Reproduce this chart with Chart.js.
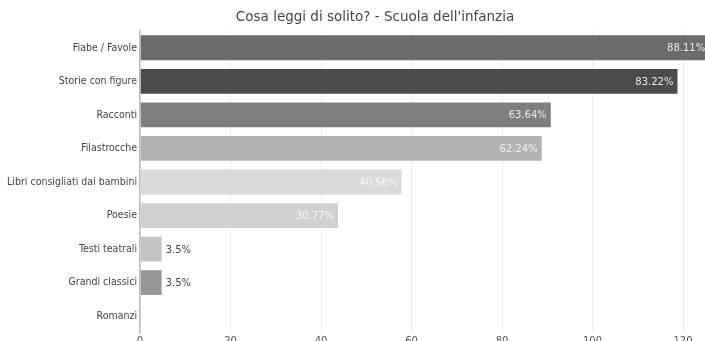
<!DOCTYPE html>
<html>
<head>
<meta charset="utf-8">
<script src="https://cdn.jsdelivr.net/npm/chart.js@4"></script>
<style>
    html, body { margin: 0; padding: 0; background: #fff; overflow: hidden; }
    #wrap { width: 705px; height: 348px; }
</style>
</head>
<body>
<div id="wrap"><canvas id="reading-chart"></canvas></div>
<script>
const titleText = "Cosa leggi di solito? - Scuola dell'infanzia";
const categories = ['Fiabe / Favole', 'Storie con figure', 'Racconti', 'Filastrocche',
    'Libri consigliati dai bambini', 'Poesie', 'Testi teatrali', 'Grandi classici', 'Romanzi'];
const answers = [126, 119, 91, 89, 58, 44, 5, 5, 0];
const totalAnswers = 143;
const barColors = ['#6b6b6b', '#4b4b4b', '#7f7f7f', '#b3b3b3', '#dadada', '#d0d0d0', '#c3c3c3', '#979797', '#aaaaaa'];
const labelColors = ['#e8e8e8', '#e8e8e8', '#e8e8e8', '#eeeeee', '#f6f6f6', '#f6f6f6', '#444', '#444', '#444'];
const xTicks = [0, 20, 40, 60, 80, 100, 120];

const percentOf = v => parseFloat((v / totalAnswers * 100).toFixed(2)) + '%';

// title sits a bit right of the canvas center, above the plot
const titlePlugin = {
    id: 'topTitle',
    afterDraw(chart) {
        const ctx = chart.ctx;
        ctx.save();
        ctx.font = '13.5px "DejaVu Sans"';
        ctx.fillStyle = '#444';
        ctx.textAlign = 'center';
        ctx.textBaseline = 'middle';
        ctx.fillText(titleText, 375, 17);
        ctx.restore();
    }
};

// percentage at the end of each bar: inside for long bars, outside for short ones
const valueLabels = {
    id: 'valueLabels',
    afterDatasetsDraw(chart) {
        const ctx = chart.ctx;
        const meta = chart.getDatasetMeta(0);
        ctx.save();
        ctx.font = '10px "DejaVu Sans"';
        ctx.textBaseline = 'middle';
        meta.data.forEach((bar, i) => {
            const v = answers[i];
            if (!v) return;
            ctx.fillStyle = labelColors[i];
            if (bar.x - bar.base > 60) {
                ctx.textAlign = 'right';
                ctx.fillText(percentOf(v), bar.x - 5, bar.y + 1);
            } else {
                ctx.textAlign = 'left';
                ctx.fillText(percentOf(v), bar.x + 3, bar.y + 1);
            }
        });
        ctx.restore();
    }
};

new Chart(document.getElementById('reading-chart'), {
    type: 'bar',
    data: {
        labels: categories,
        datasets: [{
            data: answers,
            backgroundColor: barColors,
            borderColor: 'rgba(255,255,255,0.25)',
            borderWidth: 1,
            categoryPercentage: 0.8,
            barPercentage: 1,
            clip: false
        }]
    },
    options: {
        indexAxis: 'y',
        responsive: true,
        maintainAspectRatio: false,
        animation: false,
        layout: { padding: { top: 31, right: 22, left: 0, bottom: 0 } },
        plugins: {
            legend: { display: false },
            tooltip: { enabled: false }
        },
        scales: {
            x: {
                min: 0,
                max: 120,
                afterBuildTicks: axis => { axis.ticks = xTicks.map(v => ({ value: v })); },
                afterFit: axis => { axis.height = 15; },
                grid: { color: '#ececec', drawTicks: false },
                border: { display: false },
                ticks: { color: '#555', padding: 2, font: { family: 'DejaVu Sans', size: 10 } }
            },
            y: {
                afterFit: axis => { axis.width = 140; },
                grid: { display: false, drawTicks: false },
                border: { display: true, color: '#bbb', width: 1.5 },
                ticks: { color: '#444', padding: 3, font: { family: 'DejaVu Sans Condensed', size: 10.5 } }
            }
        }
    },
    plugins: [titlePlugin, valueLabels]
});
</script>
</body>
</html>
